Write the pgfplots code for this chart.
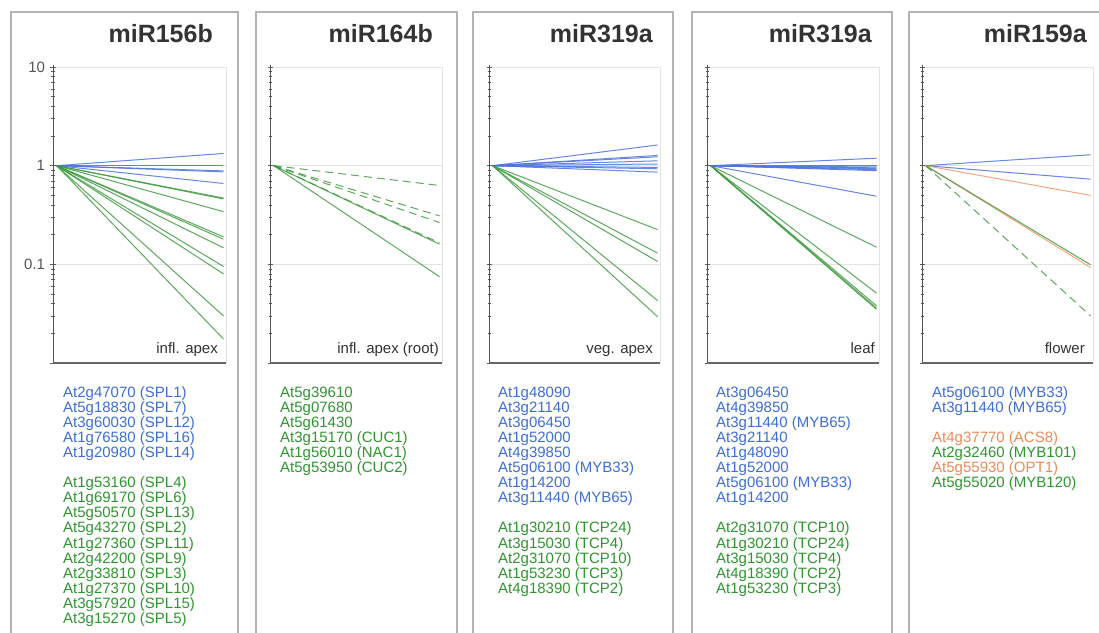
\documentclass[border=0pt]{standalone}
\usepackage{fontspec}
\setmainfont{Liberation Sans}
\usepackage{pgfplots}
\pgfplotsset{compat=1.18}
\definecolor{lblue}{HTML}{4A72E0}
\definecolor{lgreen}{HTML}{3E9A3E}
\definecolor{lorange}{HTML}{F2966A}
\definecolor{tblue}{HTML}{3D6FD6}
\definecolor{tgreen}{HTML}{2F962F}
\definecolor{torange}{HTML}{EE8A55}
\definecolor{boxgray}{HTML}{B4B4B4}
\definecolor{framegray}{HTML}{E4E4E4}
\definecolor{txtgray}{HTML}{333333}
\definecolor{ticklab}{HTML}{555555}
\pgfplotsset{
 every axis/.append style={
  scale only axis, height=296pt,
  anchor=south west,
  xtick=\empty,
  ytick pos=left,
  ymajorgrids, grid style={framegray, line width=0.6pt},
  axis line style={draw=none},
  tick align=center, major tick length=5pt, minor tick length=3pt,
  tick style={txtgray!80, line width=0.6pt},
  clip=false,
  yticklabel style={font=\fontsize{15}{15}\selectfont, text=ticklab, xshift=-2pt},
 },
 every axis plot/.append style={line width=1pt, opacity=0.85, mark=none},
}
\newcommand{\frameit}{%
  \draw[framegray, line width=0.8pt] (rel axis cs:0.04,1) -- (rel axis cs:1,1) -- (rel axis cs:1,0);
  \draw[txtgray!85, line width=0.7pt] (rel axis cs:0,1.008) -- (rel axis cs:0,0);
  \draw[txtgray!75, line width=1.3pt] (rel axis cs:0,0) -- (rel axis cs:1,0);
}
\newcommand{\gl}[4]{\node[anchor=base west, inner sep=0pt, text=#3, font=\fontsize{15}{15}\selectfont] at (#1,{-(397+15.1*#2)}) {#4};}
\newcommand{\ttl}[2]{\node[anchor=base east, inner sep=0pt, text=txtgray, font=\fontsize{25}{25}\selectfont\bfseries] at (#1,-42) {#2};}
\newcommand{\lab}[2]{\node[anchor=base east, inner sep=0pt, text=txtgray, font=\fontsize{15}{15}\selectfont] at (#1,-353) {#2};}
\begin{document}
\begin{tikzpicture}
\useasboundingbox (0,0) rectangle (1099pt,-632pt);
\clip (0,0) rectangle (1099pt,-632pt);
\begin{scope}[x=1pt,y=1pt]
\draw[boxgray, line width=1.6pt] (11,-640) -- (11,-12) -- (238,-12) -- (238,-640);
\draw[boxgray, line width=1.6pt] (256,-640) -- (256,-12) -- (457,-12) -- (457,-640);
\draw[boxgray, line width=1.6pt] (473,-640) -- (473,-12) -- (673,-12) -- (673,-640);
\draw[boxgray, line width=1.6pt] (692,-640) -- (692,-12) -- (892,-12) -- (892,-640);
\draw[boxgray, line width=1.6pt] (909,-640) -- (909,-12) -- (1110,-12);
\ttl{213}{miR156b}
\ttl{433}{miR164b}
\ttl{653}{miR319a}
\ttl{872}{miR319a}
\ttl{1087}{miR159a}
\end{scope}

% Panel 1
\begin{axis}[width=173pt, at={(53pt,-363pt)},
  ymode=log, ymin=0.01, ymax=10, xmin=-0.022, xmax=1.015,
  ytick={0.01,0.1,1,10}, yticklabels={,\textrm{0.1},\textrm{1},\textrm{10}},
  minor ytick={0.02,0.03,0.04,0.05,0.06,0.07,0.08,0.09,0.2,0.3,0.4,0.5,0.6,0.7,0.8,0.9,2,3,4,5,6,7,8,9}]
\addplot[lblue] coordinates {(0,1) (1,1.33)};
\addplot[lblue] coordinates {(0,1) (1,1.0)};
\addplot[lblue] coordinates {(0,1) (1,0.885)};
\addplot[lblue] coordinates {(0,1) (1,0.865)};
\addplot[lblue] coordinates {(0,1) (1,0.66)};
\addplot[lgreen] coordinates {(0,1) (1,0.47)};
\addplot[lgreen] coordinates {(0,1) (1,0.46)};
\addplot[lgreen] coordinates {(0,1) (1,0.342)};
\addplot[lgreen] coordinates {(0,1) (1,0.19)};
\addplot[lgreen] coordinates {(0,1) (1,0.18)};
\addplot[lgreen] coordinates {(0,1) (1,0.147)};
\addplot[lgreen] coordinates {(0,1) (1,0.095)};
\addplot[lgreen] coordinates {(0,1) (1,0.08)};
\addplot[lgreen] coordinates {(0,1) (1,0.030)};
\addplot[lgreen] coordinates {(0,1) (1,0.0175)};
\frameit
\end{axis}

% Panel 2
\begin{axis}[width=172pt, at={(270pt,-363pt)},
  ymode=log, ymin=0.01, ymax=10, xmin=-0.022, xmax=1.015,
  ytick={0.01,0.1,1,10}, yticklabels={},
  minor ytick={0.02,0.03,0.04,0.05,0.06,0.07,0.08,0.09,0.2,0.3,0.4,0.5,0.6,0.7,0.8,0.9,2,3,4,5,6,7,8,9}]
\addplot[lgreen, dash pattern=on 8pt off 5pt] coordinates {(0,1) (1,0.63)};
\addplot[lgreen, dash pattern=on 8pt off 5pt] coordinates {(0,1) (1,0.31)};
\addplot[lgreen, dash pattern=on 8pt off 5pt] coordinates {(0,1) (1,0.265)};
\addplot[lgreen, dash pattern=on 8pt off 5pt] coordinates {(0,1) (1,0.165)};
\addplot[lgreen] coordinates {(0,1) (1,0.16)};
\addplot[lgreen] coordinates {(0,1) (1,0.075)};
\frameit
\end{axis}

% Panel 3
\begin{axis}[width=171pt, at={(489pt,-363pt)},
  ymode=log, ymin=0.01, ymax=10, xmin=-0.022, xmax=1.015,
  ytick={0.01,0.1,1,10}, yticklabels={},
  minor ytick={0.02,0.03,0.04,0.05,0.06,0.07,0.08,0.09,0.2,0.3,0.4,0.5,0.6,0.7,0.8,0.9,2,3,4,5,6,7,8,9}]
\addplot[lblue] coordinates {(0,1) (1,1.62)};
\addplot[lblue] coordinates {(0,1) (1,1.27)};
\addplot[lblue] coordinates {(0,1) (1,1.23)};
\addplot[lblue] coordinates {(0,1) (1,1.12)};
\addplot[lblue] coordinates {(0,1) (1,1.04)};
\addplot[lblue] coordinates {(0,1) (1,0.96)};
\addplot[lblue] coordinates {(0,1) (1,0.93)};
\addplot[lblue] coordinates {(0,1) (1,0.86)};
\addplot[lgreen] coordinates {(0,1) (1,0.225)};
\addplot[lgreen] coordinates {(0,1) (1,0.130)};
\addplot[lgreen] coordinates {(0,1) (1,0.107)};
\addplot[lgreen] coordinates {(0,1) (1,0.043)};
\addplot[lgreen] coordinates {(0,1) (1,0.0295)};
\frameit
\end{axis}

% Panel 4
\begin{axis}[width=172pt, at={(707pt,-363pt)},
  ymode=log, ymin=0.01, ymax=10, xmin=-0.022, xmax=1.015,
  ytick={0.01,0.1,1,10}, yticklabels={},
  minor ytick={0.02,0.03,0.04,0.05,0.06,0.07,0.08,0.09,0.2,0.3,0.4,0.5,0.6,0.7,0.8,0.9,2,3,4,5,6,7,8,9}]
\addplot[lblue] coordinates {(0,1) (1,1.19)};
\addplot[lblue] coordinates {(0,1) (1,1.0)};
\addplot[lblue] coordinates {(0,1) (1,0.97)};
\addplot[lblue] coordinates {(0,1) (1,0.95)};
\addplot[lblue] coordinates {(0,1) (1,0.93)};
\addplot[lblue] coordinates {(0,1) (1,0.91)};
\addplot[lblue] coordinates {(0,1) (1,0.89)};
\addplot[lblue] coordinates {(0,1) (1,0.49)};
\addplot[lgreen] coordinates {(0,1) (1,0.149)};
\addplot[lgreen] coordinates {(0,1) (1,0.051)};
\addplot[lgreen] coordinates {(0,1) (1,0.038)};
\addplot[lgreen] coordinates {(0,1) (1,0.036)};
\addplot[lgreen] coordinates {(0,1) (1,0.035)};
\frameit
\end{axis}

% Panel 5
\begin{axis}[width=171pt, at={(922pt,-363pt)},
  ymode=log, ymin=0.01, ymax=10, xmin=-0.022, xmax=1.015,
  ytick={0.01,0.1,1,10}, yticklabels={},
  minor ytick={0.02,0.03,0.04,0.05,0.06,0.07,0.08,0.09,0.2,0.3,0.4,0.5,0.6,0.7,0.8,0.9,2,3,4,5,6,7,8,9}]
\addplot[lblue] coordinates {(0,1) (1,1.29)};
\addplot[lblue] coordinates {(0,1) (1,0.73)};
\addplot[lorange] coordinates {(0,1) (1,0.50)};
\addplot[lorange] coordinates {(0,1) (1,0.093)};
\addplot[lgreen] coordinates {(0,1) (1,0.099)};
\addplot[lgreen, dash pattern=on 8pt off 5pt] coordinates {(0,1) (1,0.030)};
\frameit
\end{axis}

\begin{scope}[x=1pt,y=1pt]
\lab{218}{infl. apex}
\lab{439}{infl. apex (root)}
\lab{653}{veg. apex}
\lab{875}{leaf}
\lab{1085}{flower}
\gl{63}{0}{tblue}{At2g47070 (SPL1)}
\gl{63}{1}{tblue}{At5g18830 (SPL7)}
\gl{63}{2}{tblue}{At3g60030 (SPL12)}
\gl{63}{3}{tblue}{At1g76580 (SPL16)}
\gl{63}{4}{tblue}{At1g20980 (SPL14)}
\gl{63}{6}{tgreen}{At1g53160 (SPL4)}
\gl{63}{7}{tgreen}{At1g69170 (SPL6)}
\gl{63}{8}{tgreen}{At5g50570 (SPL13)}
\gl{63}{9}{tgreen}{At5g43270 (SPL2)}
\gl{63}{10}{tgreen}{At1g27360 (SPL11)}
\gl{63}{11}{tgreen}{At2g42200 (SPL9)}
\gl{63}{12}{tgreen}{At2g33810 (SPL3)}
\gl{63}{13}{tgreen}{At1g27370 (SPL10)}
\gl{63}{14}{tgreen}{At3g57920 (SPL15)}
\gl{63}{15}{tgreen}{At3g15270 (SPL5)}
\gl{280}{0}{tgreen}{At5g39610}
\gl{280}{1}{tgreen}{At5g07680}
\gl{280}{2}{tgreen}{At5g61430}
\gl{280}{3}{tgreen}{At3g15170 (CUC1)}
\gl{280}{4}{tgreen}{At1g56010 (NAC1)}
\gl{280}{5}{tgreen}{At5g53950 (CUC2)}
\gl{498}{0}{tblue}{At1g48090}
\gl{498}{1}{tblue}{At3g21140}
\gl{498}{2}{tblue}{At3g06450}
\gl{498}{3}{tblue}{At1g52000}
\gl{498}{4}{tblue}{At4g39850}
\gl{498}{5}{tblue}{At5g06100 (MYB33)}
\gl{498}{6}{tblue}{At1g14200}
\gl{498}{7}{tblue}{At3g11440 (MYB65)}
\gl{498}{9}{tgreen}{At1g30210 (TCP24)}
\gl{498}{10}{tgreen}{At3g15030 (TCP4)}
\gl{498}{11}{tgreen}{At2g31070 (TCP10)}
\gl{498}{12}{tgreen}{At1g53230 (TCP3)}
\gl{498}{13}{tgreen}{At4g18390 (TCP2)}
\gl{716}{0}{tblue}{At3g06450}
\gl{716}{1}{tblue}{At4g39850}
\gl{716}{2}{tblue}{At3g11440 (MYB65)}
\gl{716}{3}{tblue}{At3g21140}
\gl{716}{4}{tblue}{At1g48090}
\gl{716}{5}{tblue}{At1g52000}
\gl{716}{6}{tblue}{At5g06100 (MYB33)}
\gl{716}{7}{tblue}{At1g14200}
\gl{716}{9}{tgreen}{At2g31070 (TCP10)}
\gl{716}{10}{tgreen}{At1g30210 (TCP24)}
\gl{716}{11}{tgreen}{At3g15030 (TCP4)}
\gl{716}{12}{tgreen}{At4g18390 (TCP2)}
\gl{716}{13}{tgreen}{At1g53230 (TCP3)}
\gl{932}{0}{tblue}{At5g06100 (MYB33)}
\gl{932}{1}{tblue}{At3g11440 (MYB65)}
\gl{932}{3}{torange}{At4g37770 (ACS8)}
\gl{932}{4}{tgreen}{At2g32460 (MYB101)}
\gl{932}{5}{torange}{At5g55930 (OPT1)}
\gl{932}{6}{tgreen}{At5g55020 (MYB120)}
\end{scope}
\end{tikzpicture}
\end{document}
